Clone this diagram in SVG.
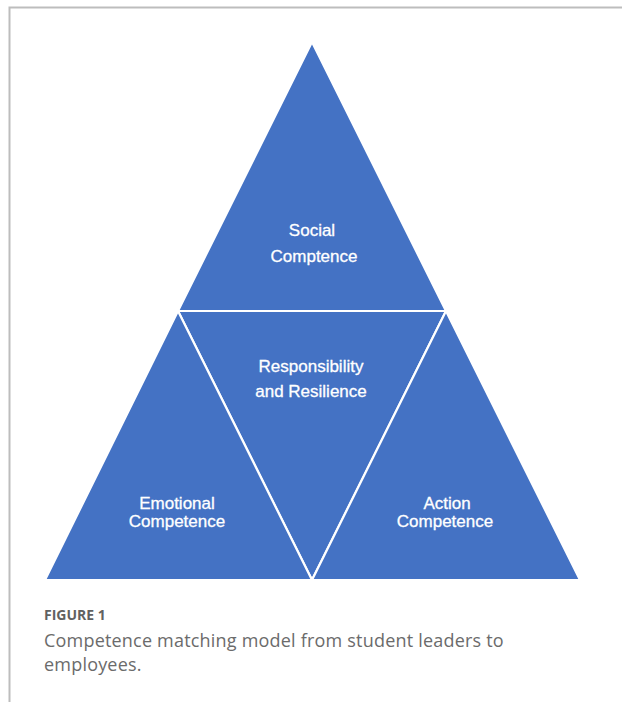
<svg xmlns="http://www.w3.org/2000/svg" width="622" height="702" viewBox="0 0 622 702">
<style>
.tri{fill:#4472C4;stroke:#ffffff;stroke-width:2.2;stroke-linejoin:miter}
.lbl{font-family:"Liberation Sans",Arial,sans-serif;font-size:17px;fill:#ffffff;stroke:#ffffff;stroke-width:0.3;text-anchor:middle}
.border{stroke:#bdbdbd;stroke-width:2;fill:none}
.cap{font-family:"Open Sans",sans-serif;font-size:18px;fill:#6b6b6b;letter-spacing:0.2px}
</style>
<rect width="622" height="702" fill="#ffffff"/>
<path class="border" d="M9.5 702 V7.5 H622"/>
<g id="social">
<polygon class="tri" points="312,42 446,311 178,311"/>
<text class="lbl" x="312" y="236">Social</text>
<text class="lbl" x="314" y="262">Comptence</text>
</g>
<g id="responsibility">
<polygon class="tri" points="178,311 446,311 312,580"/>
<text class="lbl" x="311" y="372">Responsibility</text>
<text class="lbl" x="311" y="397">and Resilience</text>
</g>
<g id="emotional">
<polygon class="tri" points="178,311 312,580 45,580"/>
<text class="lbl" x="177" y="509">Emotional</text>
<text class="lbl" x="177" y="527">Competence</text>
</g>
<g id="action">
<polygon class="tri" points="446,311 580,580 312,580"/>
<text class="lbl" x="447" y="509">Action</text>
<text class="lbl" x="445" y="527">Competence</text>
</g>
<g id="connectors"></g>
<g id="caption">
<text x="44" y="620" font-family="'Open Sans',sans-serif" font-size="14" font-weight="700" fill="#616161">FIGURE 1</text>
<text class="cap" x="44" y="647">Competence matching model from student leaders to</text>
<text class="cap" x="44" y="671">employees.</text>
</g>
</svg>
